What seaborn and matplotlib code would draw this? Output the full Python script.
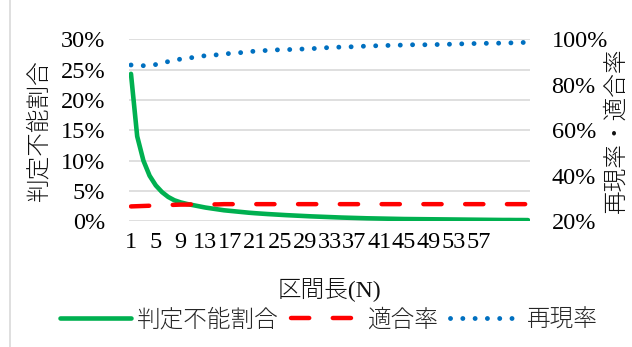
import matplotlib
matplotlib.use("Agg")
import matplotlib.pyplot as plt
from matplotlib.lines import Line2D
from matplotlib.font_manager import FontProperties
import seaborn as sns
import pandas as pd

# 区間長 N = 1 .. 65
interval_length = list(range(1, 66))

# 判定不能割合 (%) - left axis
undecidable_pct = [
    24.3, 14.0, 10.0, 7.5, 5.9, 4.8, 4.0, 3.45, 3.1, 2.85,
    2.65, 2.45, 2.25, 2.1, 1.95, 1.8, 1.7, 1.6, 1.5, 1.4,
    1.32, 1.25, 1.18, 1.12, 1.06, 1.0, 0.95, 0.9, 0.85, 0.8,
    0.76, 0.72, 0.68, 0.64, 0.6, 0.57, 0.54, 0.51, 0.48, 0.46,
    0.44, 0.42, 0.4, 0.38, 0.36, 0.35, 0.34, 0.33, 0.32, 0.31,
    0.3, 0.29, 0.28, 0.27, 0.26, 0.25, 0.24, 0.23, 0.22, 0.21,
    0.2, 0.2, 0.19, 0.19, 0.18,
]

# 適合率 (%) - right axis
precision_pct = [
    26.5, 26.6, 26.7, 26.8, 26.9, 27.0, 27.1, 27.2, 27.3, 27.3,
    27.4, 27.4, 27.4, 27.4, 27.4, 27.5, 27.5, 27.5, 27.5, 27.5,
    27.5, 27.5, 27.5, 27.5, 27.5, 27.5, 27.5, 27.5, 27.5, 27.5,
    27.5, 27.5, 27.5, 27.5, 27.5, 27.5, 27.5, 27.5, 27.5, 27.5,
    27.5, 27.5, 27.5, 27.5, 27.5, 27.5, 27.5, 27.5, 27.5, 27.5,
    27.5, 27.5, 27.5, 27.5, 27.5, 27.5, 27.5, 27.5, 27.5, 27.5,
    27.5, 27.5, 27.5, 27.5, 27.5,
]

# 再現率 (%) - right axis
recall_pct = [
    88.7, 88.5, 88.4, 88.5, 88.9, 89.6, 90.2, 90.8, 91.3, 91.7,
    92.0, 92.4, 92.8, 93.0, 93.2, 93.5, 93.8, 94.0, 94.2, 94.5,
    94.8, 95.0, 95.1, 95.3, 95.4, 95.5, 95.5, 95.6, 95.8, 95.9,
    96.0, 96.2, 96.4, 96.5, 96.6, 96.7, 96.7, 96.9, 97.0, 97.1,
    97.2, 97.3, 97.3, 97.4, 97.5, 97.6, 97.6, 97.6, 97.6, 97.7,
    97.7, 97.8, 97.9, 98.0, 98.0, 98.1, 98.2, 98.2, 98.3, 98.3,
    98.3, 98.4, 98.5, 98.6, 98.6,
]

x_tick_values = list(range(1, 58, 4))
left_ticks = [0, 5, 10, 15, 20, 25, 30]
right_ticks = [20, 40, 60, 80, 100]

labels = {"undecidable": "判定不能割合", "precision": "適合率", "recall": "再現率"}

df = pd.DataFrame({
    "N": interval_length,
    "undecidable": undecidable_pct,
    "precision": precision_pct,
    "recall": recall_pct,
})

sns.set_style("white")
plt.rcParams["font.family"] = ["Liberation Serif", "Noto Sans CJK JP"]

W, H = 632, 347
fig = plt.figure(figsize=(W / 100, H / 100), dpi=100)
left_px, right_px, top_px, bottom_px = 129, 530, 39.3, 221.2
ax = fig.add_axes([left_px / W, 1 - bottom_px / H,
                   (right_px - left_px) / W, (bottom_px - top_px) / H])
ax2 = ax.twinx()

green, red, blue = "#00B050", "#FF0000", "#0070C0"

sns.lineplot(data=df, x="N", y="undecidable", ax=ax, color=green, lw=3.3,
             label=labels["undecidable"], legend=False,
             solid_capstyle="round", solid_joinstyle="round")
sns.lineplot(data=df, x="N", y="precision", ax=ax2, color=red, lw=3.2,
             label=labels["precision"], legend=False)
sns.lineplot(data=df, x="N", y="recall", ax=ax2, color=blue, lw=3.5,
             label=labels["recall"], legend=False)

red_line = ax2.lines[0]
red_line.set_dashes((4.1, 5.3))
red_line.set_dash_capstyle("round")
blue_line = ax2.lines[1]
blue_line.set_dashes((0.01, 2.52))
blue_line.set_dash_capstyle("round")

pad = 0.32
ax.set_xlim(1 - pad, 65 + pad)
ax.set_ylim(0, 30)
ax2.set_ylim(20, 100)

ax.set_xticks(x_tick_values)
ax.set_xticklabels([str(v) for v in x_tick_values])
ax.set_yticks(left_ticks)
ax.set_yticklabels([f"{v}%" for v in left_ticks])
ax2.set_yticks(right_ticks)
ax2.set_yticklabels([f"{v}%" for v in right_ticks])

tick_size = 17.5
ax.tick_params(axis="x", length=0, pad=8, labelsize=tick_size, colors="black")
ax.tick_params(axis="y", length=0, pad=17, labelsize=tick_size, colors="black")
ax2.tick_params(axis="y", length=0, pad=15.5, labelsize=tick_size, colors="black")

ax.grid(axis="y", color="#d9d9d9", lw=1.2)
ax.grid(axis="x", visible=False)
ax2.grid(False)
for a in (ax, ax2):
    for s in a.spines.values():
        s.set_visible(False)
ax.set_zorder(0)
ax2.set_zorder(1)
ax2.patch.set_visible(False)

cjk = ["Noto Sans CJK JP", "Liberation Serif"]
cjk_prop = dict(family=cjk, fontsize=17, color="#111111", fontweight="light")
ax.set_ylabel("判定不能割合", **cjk_prop)
ax.yaxis.set_label_coords((39 - left_px) / (right_px - left_px), 0.5)
ax.yaxis.label.set_va("center")
ax2.set_ylabel("再現率・適合率", rotation=90, **cjk_prop)
ax2.yaxis.set_label_coords((616.5 - left_px) / (right_px - left_px), 0.5)
ax2.yaxis.label.set_va("center")

ax.set_xlabel("区間長(N)", family=["Liberation Serif", "Noto Sans CJK JP"],
              fontsize=17, color="#111111", fontweight="light")
ax.xaxis.set_label_coords(0.5, -(289 - bottom_px) / (bottom_px - top_px))
ax.xaxis.label.set_va("center")

handles = [ax.lines[0], red_line, blue_line]
fig.legend(handles, [h.get_label() for h in handles], loc="center",
           bbox_to_anchor=(329 / W, 1 - 320 / H), ncol=3, frameon=False,
           handlelength=3.0, handletextpad=0.25, columnspacing=0.5,
           prop=FontProperties(family=cjk, size=17, weight="light"))

# thin frame line on the left of the chart area
fig.add_artist(Line2D([9.5 / W, 9.5 / W], [0, 1], transform=fig.transFigure,
                      color="#d9d9d9", lw=1.2))

fig.savefig("out.png", dpi=100)
